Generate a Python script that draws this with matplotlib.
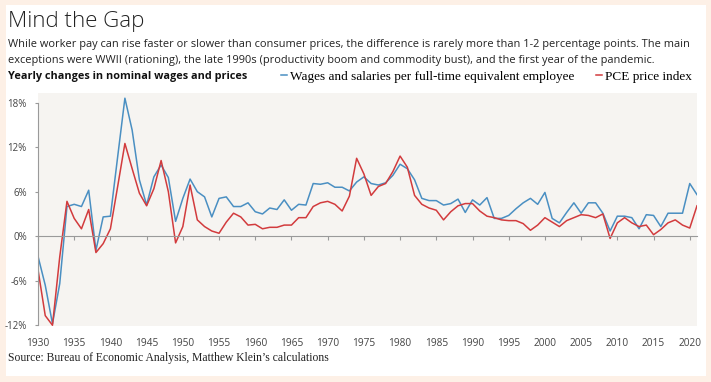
import matplotlib.pyplot as plt
from matplotlib.patches import Rectangle

years = list(range(1930, 2022))

# yearly % change, wages and salaries per FTE employee
wages = [
    -2.7, -6.6, -11.8, -6.4, 4.0, 4.3, 4.0, 6.2, -1.9, 2.6,
    2.7, 10.7, 18.6, 14.3, 7.6, 4.2, 8.0, 9.6, 7.9, 2.0,
    5.1, 7.7, 6.0, 5.3, 2.6, 5.1, 5.3, 4.0, 4.0, 4.5,
    3.3, 3.0, 3.8, 3.6, 4.9, 3.5, 4.3, 4.2, 7.1, 7.0,
    7.2, 6.6, 6.6, 6.1, 7.3, 8.0, 7.1, 6.9, 7.2, 8.2,
    9.7, 9.1, 7.6, 5.1, 4.8, 4.8, 4.2, 4.4, 5.0, 3.2,
    4.9, 4.2, 5.2, 2.4, 2.4, 2.8, 3.7, 4.5, 5.1, 4.3,
    5.9, 2.4, 1.8, 3.2, 4.5, 3.1, 4.5, 4.5, 3.1, 0.7,
    2.7, 2.7, 2.5, 1.0, 2.9, 2.8, 1.3, 3.1, 3.1, 3.1,
    7.1, 5.6,
]

# yearly % change, PCE price index
pce = [
    -4.5, -10.7, -12.0, -2.8, 4.7, 2.4, 1.0, 3.6, -2.2, -1.0,
    1.0, 6.7, 12.5, 9.1, 5.8, 4.1, 6.4, 10.2, 6.0, -0.9,
    1.3, 6.9, 2.2, 1.3, 0.7, 0.4, 1.9, 3.1, 2.6, 1.5,
    1.6, 1.0, 1.2, 1.2, 1.5, 1.5, 2.5, 2.5, 4.0, 4.5,
    4.7, 4.3, 3.4, 5.4, 10.5, 8.4, 5.5, 6.7, 7.1, 8.7,
    10.8, 9.3, 5.5, 4.3, 3.8, 3.5, 2.2, 3.3, 4.1, 4.4,
    4.4, 3.4, 2.7, 2.5, 2.2, 2.1, 2.1, 1.7, 0.8, 1.5,
    2.5, 1.9, 1.3, 2.1, 2.5, 2.9, 2.8, 2.5, 3.0, -0.3,
    1.8, 2.5, 1.8, 1.3, 1.5, 0.2, 0.9, 1.8, 2.2, 1.5,
    1.1, 4.1,
]

y_ticks = [-12, -6, 0, 6, 12, 18]
x_ticks = list(range(1930, 2021, 5))

blue = '#4a8fc2'
red = '#d23b3d'
sans = ['Open Sans', 'DejaVu Sans']
serif = ['Liberation Serif', 'DejaVu Serif']

fig = plt.figure(figsize=(7.11, 3.82), dpi=100)
fig.patch.set_facecolor('#fdf0e6')
fig.patches.append(Rectangle((6 / 711, 1 - 376 / 382), 700 / 711, 371 / 382,
                             transform=fig.transFigure, facecolor='white',
                             edgecolor='none', zorder=-10))

ax = fig.add_axes([38 / 711, 1 - 326 / 382, 659 / 711, 233 / 382])
ax.set_facecolor('#f6f4f1')

ax.plot(years, wages, color=blue, lw=1.1, label='Wages and salaries per full-time equivalent employee')
ax.plot(years, pce, color=red, lw=1.1, label='PCE price index')

ax.set_xlim(1930, 2021)
ax.set_ylim(-12.1, 19.3)

for s in ['top', 'right']:
    ax.spines[s].set_visible(False)
ax.spines['left'].set_color('#9a9a9a')
ax.spines['left'].set_linewidth(0.8)
ax.spines['left'].set_bounds(-12, 18)
ax.spines['bottom'].set_position(('data', 0))
ax.spines['bottom'].set_color('#9a9a9a')
ax.spines['bottom'].set_linewidth(0.8)

ax.set_yticks(y_ticks)
ax.set_yticklabels([f'{t}%' for t in y_ticks], family=sans, fontsize=7, color='#444444')
ax.tick_params(axis='y', length=2, color='#9a9a9a', pad=6)

ax.set_xticks(x_ticks)
ax.tick_params(axis='x', length=3, color='#9a9a9a', labelbottom=False)

sec = ax.secondary_xaxis('bottom')
sec.set_xticks(x_ticks)
sec.set_xticklabels([str(t) for t in x_ticks], family=sans, fontsize=7.3, color='#444444')
sec.tick_params(length=0, pad=9)
sec.spines['bottom'].set_visible(False)

fig.text(8 / 711, 1 - 21 / 382, 'Mind the Gap', family=sans, fontsize=16,
         weight='light', va='center', color='#222222')
fig.text(8 / 711, 1 - 44 / 382,
         'While worker pay can rise faster or slower than consumer prices, the difference is rarely more '
         'than 1-2 percentage points. The main', family=sans, fontsize=7.95, va='center', color='#222222')
fig.text(8 / 711, 1 - 60 / 382,
         'exceptions were WWII (rationing), the late 1990s (productivity boom and commodity bust), '
         'and the first year of the pandemic.', family=sans, fontsize=7.95, va='center', color='#222222')
fig.text(8 / 711, 1 - 77 / 382, 'Yearly changes in nominal wages and prices', family=sans,
         fontsize=7.8, weight='bold', va='center', color='#111111')

fig.legend(loc='center left', bbox_to_anchor=(281 / 711, 1 - 77 / 382), ncol=2, frameon=False,
           handlelength=0.45, handletextpad=0.25, columnspacing=1.6, borderpad=0, borderaxespad=0,
           prop={'family': serif, 'size': 9.5})

fig.text(8 / 711, 1 - 358 / 382, 'Source: Bureau of Economic Analysis, Matthew Klein\u2019s calculations',
         family=serif, fontsize=8.4, va='center', color='#222222')

fig.savefig('out.png', dpi=100, facecolor=fig.get_facecolor())
